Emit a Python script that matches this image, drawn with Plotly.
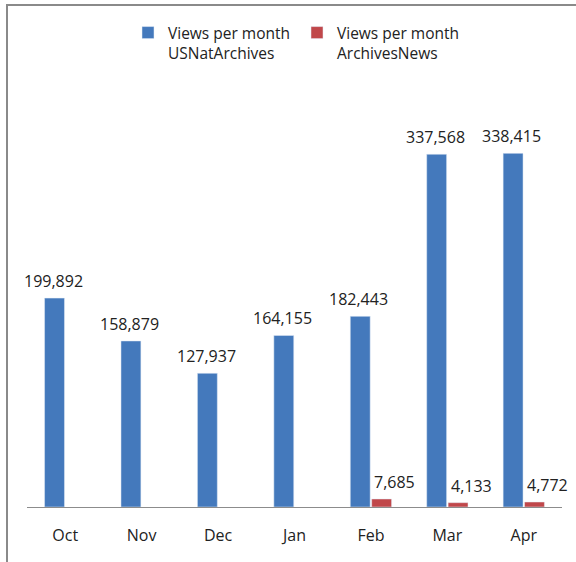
import plotly.graph_objects as go

months = ["Oct", "Nov", "Dec", "Jan", "Feb", "Mar", "Apr"]
usnat = [199892, 158879, 127937, 164155, 182443, 337568, 338415]
archnews = [None, None, None, None, 7685, 4133, 4772]
series_names = ["Views per month<br>USNatArchives", "Views per month<br>ArchivesNews"]

W, H = 576, 562
ml, mr, mt, mb = 27, 14, 89, 55
pw = W - ml - mr
ph = H - mt - mb

fig = go.Figure()
fig.add_trace(go.Bar(x=months, y=usnat, name=series_names[0],
                     marker_color="#4479BC"))
fig.add_trace(go.Bar(x=months, y=archnews, name=series_names[1],
                     marker_color="#C0474A"))

annotations = []
for m, v in zip(months, usnat):
    annotations.append(dict(x=m, y=v, text=f"{v:,}", showarrow=False,
                            xanchor="center", yanchor="bottom",
                            xshift=-12, yshift=4,
                            font=dict(size=16, color="#222222")))
for m, v in zip(months, archnews):
    if v is None:
        continue
    annotations.append(dict(x=m, y=v, text=f"{v:,}", showarrow=False,
                            xanchor="center", yanchor="bottom",
                            xshift=24, yshift=4,
                            font=dict(size=16, color="#222222")))

fig.update_layout(
    width=W, height=H,
    margin=dict(l=ml, r=mr, t=mt, b=mb, autoexpand=False),
    paper_bgcolor="white", plot_bgcolor="white",
    font=dict(family="Open Sans", size=16, color="#222222"),
    barmode="group", bargap=0.44, bargroupgap=0.07,
    showlegend=True,
    legend=dict(orientation="h", x=(128 - ml) / pw, xanchor="left",
                y=1 + (mt - 16) / ph, yanchor="top",
                valign="top", itemwidth=30,
                entrywidth=124, entrywidthmode="pixels",
                font=dict(size=15.5), bgcolor="rgba(0,0,0,0)"),
    xaxis=dict(showline=True, linecolor="#8c8c8c", linewidth=1,
               range=[-0.5, 6.5], fixedrange=True,
               ticks="", showgrid=False, ticklabelstandoff=14,
               tickfont=dict(size=16)),
    yaxis=dict(visible=False, range=[0, 400000], showgrid=False, fixedrange=True),
    annotations=annotations,
    shapes=[dict(type="rect", xref="paper", yref="paper",
                 x0=(7 - ml) / pw, x1=(W + 10 - ml) / pw,
                 y0=-(H + 10 - mt - ph) / ph, y1=1 + (mt - 5) / ph,
                 line=dict(color="#8a8a8a", width=2))],
)

fig.write_html("out.html", config={"displayModeBar": False},
               post_script="document.body.style.margin='0';")
